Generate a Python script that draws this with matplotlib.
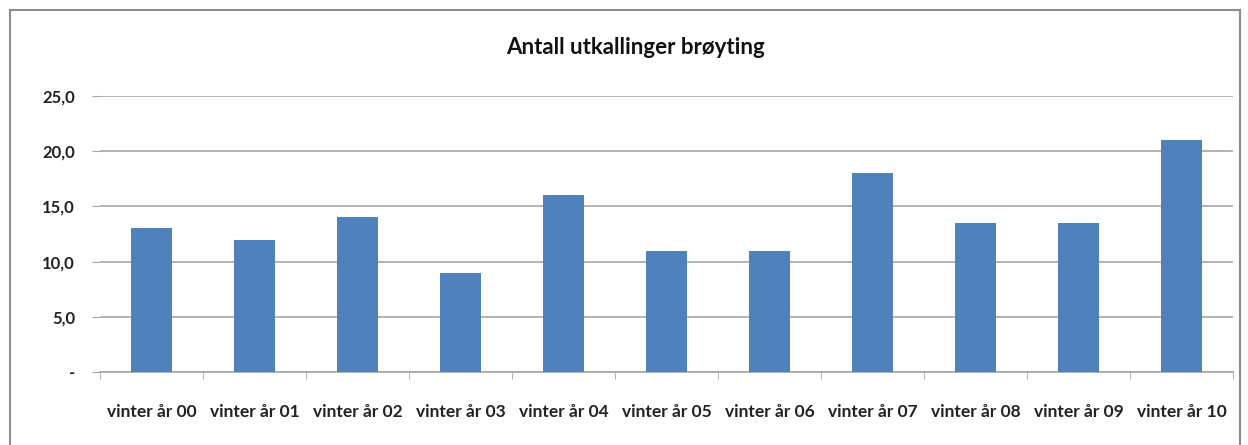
import matplotlib
matplotlib.use("Agg")
import matplotlib.pyplot as plt
from matplotlib.patches import Rectangle

categories = ["vinter år 00", "vinter år 01", "vinter år 02", "vinter år 03",
              "vinter år 04", "vinter år 05", "vinter år 06", "vinter år 07",
              "vinter år 08", "vinter år 09", "vinter år 10"]
values = [13, 12, 14, 9, 16, 11, 11, 18, 13.5, 13.5, 21]
yticks = [0, 5, 10, 15, 20, 25]
ytick_labels = ["-", "5,0", "10,0", "15,0", "20,0", "25,0"]
title = "Antall utkallinger brøyting"

plt.rcParams['font.family'] = ['Lato', 'DejaVu Sans']

W, H = 1248, 445
fig = plt.figure(figsize=(W / 100, H / 100), dpi=100)
fig.patch.set_facecolor("white")

# outer chart border
fig.patches.append(Rectangle((10 / W, -0.05), 1230 / W, 1 - 10 / H + 0.05,
                             transform=fig.transFigure, fill=False,
                             edgecolor="#8c8c8c", linewidth=1.5))

ax = fig.add_axes([100 / W, 1 - 372 / H, (1233 - 100) / W, (372 - 96) / H])
x = list(range(len(categories)))
ax.bar(x, values, width=0.4, color="#4f81bd", zorder=3)
ax.set_xlim(-0.5, len(categories) - 0.5)
ax.set_ylim(0, 25)

ax.set_yticks(yticks)
ax.set_yticklabels(ytick_labels, fontsize=12, color="#222222", fontweight="bold")
ax.yaxis.grid(True, color="#a6a6a6", linewidth=1.2, zorder=0)
ax.tick_params(axis="y", length=6, color="#a6a6a6", pad=12)

ax.set_xticks(x)
ax.set_xticklabels(categories, fontsize=12.5, color="#222222", fontweight="bold")
ax.set_xticks([i - 0.5 for i in range(len(categories) + 1)], minor=True)
ax.tick_params(axis="x", which="major", length=0, pad=23)
ax.tick_params(axis="x", which="minor", length=5, color="#a6a6a6", direction="out")

for s in ["top", "right", "left"]:
    ax.spines[s].set_visible(False)
ax.spines["bottom"].set_color("#a6a6a6")
ax.spines["bottom"].set_linewidth(1.2)

fig.text(635 / W, 1 - 48 / H, title, ha="center", va="center",
         fontsize=16, fontweight="bold", color="#111111")

fig.savefig("out.png", dpi=100)
